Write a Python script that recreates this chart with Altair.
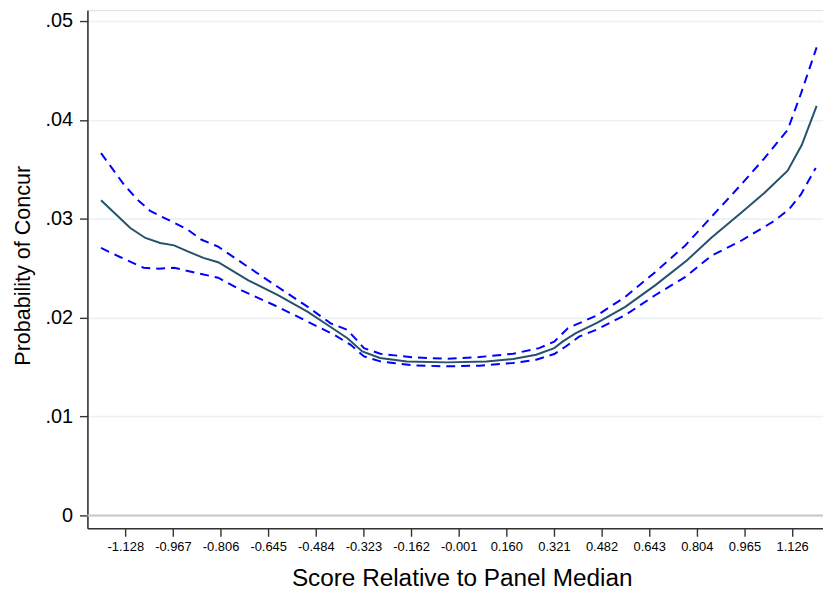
import altair as alt
import pandas as pd

# Point estimate (solid line)
est_x = [-1.210, -1.111, -1.060, -1.010, -0.963, -0.915, -0.864, -0.814, -0.712, -0.612,
         -0.511, -0.444, -0.377, -0.327, -0.267, -0.176, -0.041, 0.093, 0.183, 0.261,
         0.322, 0.350, 0.395, 0.468, 0.562, 0.663, 0.770, 0.854, 0.954, 1.033,
         1.111, 1.159, 1.209]
est_y = [0.03187, 0.02906, 0.02806, 0.02755, 0.02731, 0.02668, 0.02605, 0.02561, 0.02377, 0.02227,
         0.02059, 0.01926, 0.01792, 0.01658, 0.01592, 0.01558, 0.01548, 0.01558, 0.01582, 0.01625,
         0.01692, 0.01758, 0.01843, 0.01949, 0.02109, 0.02327, 0.02578, 0.02811, 0.03062, 0.03263,
         0.03487, 0.03748, 0.04142]

# Upper confidence bound (dashed)
up_x = [-1.210, -1.133, -1.088, -1.044, -0.971, -0.920, -0.870, -0.814, -0.712, -0.612,
        -0.511, -0.434, -0.377, -0.321, -0.266, -0.153, -0.041, 0.069, 0.183, 0.271,
        0.322, 0.368, 0.468, 0.562, 0.663, 0.764, 0.831, 0.954, 1.033, 1.111,
        1.156, 1.209]
up_y = [0.03664, 0.03347, 0.03197, 0.03079, 0.02972, 0.02896, 0.02788, 0.02718, 0.02511, 0.02310,
        0.02109, 0.01943, 0.01876, 0.01692, 0.01635, 0.01598, 0.01585, 0.01602, 0.01635, 0.01692,
        0.01758, 0.01893, 0.02026, 0.02210, 0.02460, 0.02728, 0.02946, 0.03347, 0.03614, 0.03899,
        0.04266, 0.04734]

# Lower confidence bound (dashed)
lo_x = [-1.210, -1.144, -1.066, -1.015, -0.963, -0.898, -0.814, -0.735, -0.612, -0.511,
        -0.421, -0.366, -0.321, -0.266, -0.153, -0.041, 0.069, 0.183, 0.261, 0.322,
        0.361, 0.406, 0.468, 0.562, 0.663, 0.764, 0.854, 0.954, 1.066, 1.116,
        1.156, 1.206]
lo_y = [0.02705, 0.02611, 0.02505, 0.02495, 0.02505, 0.02460, 0.02404, 0.02277, 0.02109, 0.01959,
        0.01826, 0.01725, 0.01608, 0.01558, 0.01518, 0.01508, 0.01515, 0.01542, 0.01575, 0.01632,
        0.01708, 0.01808, 0.01883, 0.02026, 0.02227, 0.02410, 0.02628, 0.02778, 0.02979, 0.03096,
        0.03247, 0.03514]

x_ticks = [-1.128, -0.967, -0.806, -0.645, -0.484, -0.323, -0.162, -0.001,
           0.160, 0.321, 0.482, 0.643, 0.804, 0.965, 1.126]
y_ticks = [0, 0.01, 0.02, 0.03, 0.04, 0.05]

FONT = "Liberation Sans"

xscale = alt.Scale(domain=[-1.256, 1.2305], nice=False, zero=False)
yscale = alt.Scale(domain=[-0.0013, 0.0511], nice=False, zero=False)

xaxis = alt.Axis(
    values=x_ticks,
    labelExpr="replace(format(datum.value, '.3f'), '\u2212', '-')",
    grid=False,
    domainColor="#333333", domainWidth=1.6, tickColor="#333333", tickWidth=1.4, tickSize=8,
    labelFont=FONT, labelFontSize=13, labelColor="#000000", labelPadding=4, labelFlush=False,
    title="Score Relative to Panel Median", titleFont=FONT, titleFontSize=24.5,
    titleFontWeight="normal", titleColor="#000000", titleX=377, titleY=58,
    titleAlign="center", titleBaseline="alphabetic",
)
yaxis = alt.Axis(
    values=y_ticks,
    labelExpr="datum.value == 0 ? '0' : replace(format(datum.value, '.2f'), '0.', '.')",
    grid=True, gridColor="#eaf2f3", gridWidth=1.6,
    domainColor="#333333", domainWidth=1.6, tickColor="#333333", tickWidth=1.4, tickSize=8,
    labelFont=FONT, labelFontSize=20, labelColor="#000000", labelPadding=7,
    title="Probability of Concur", titleFont=FONT, titleFontSize=21.7,
    titleFontWeight="normal", titleColor="#000000", titleAngle=270,
    titleX=-58, titleY=257, titleAlign="center", titleBaseline="alphabetic",
)

df_est = pd.DataFrame({"x": est_x, "y": est_y})
df_up = pd.DataFrame({"x": up_x, "y": up_y})
df_lo = pd.DataFrame({"x": lo_x, "y": lo_y})
df_zero = pd.DataFrame({"y": [0.0]})

base_axes = alt.Chart(df_est).mark_line(opacity=0).encode(
    x=alt.X("x:Q", scale=xscale, axis=xaxis),
    y=alt.Y("y:Q", scale=yscale, axis=yaxis),
)

zero_rule = alt.Chart(df_zero).mark_rule(color="#c8c8c8", strokeWidth=2).encode(
    y=alt.Y("y:Q", scale=yscale)
)

upper = alt.Chart(df_up).mark_line(color="#0000ff", strokeWidth=2, strokeDash=[9, 6]).encode(
    x=alt.X("x:Q", scale=xscale), y=alt.Y("y:Q", scale=yscale)
)
lower = alt.Chart(df_lo).mark_line(color="#0000ff", strokeWidth=2, strokeDash=[9, 6]).encode(
    x=alt.X("x:Q", scale=xscale), y=alt.Y("y:Q", scale=yscale)
)
est = alt.Chart(df_est).mark_line(color="#24526a", strokeWidth=2).encode(
    x=alt.X("x:Q", scale=xscale), y=alt.Y("y:Q", scale=yscale)
)

chart = alt.layer(base_axes, zero_rule, upper, lower, est).properties(
    width=741, height=522,
    autosize=alt.AutoSizeParams(type="none"),
    padding={"left": 80, "top": 0, "right": 0, "bottom": 61},
).configure_view(stroke=None).configure(background="white")

chart.save("out.html", embed_options={"renderer": "svg", "actions": False})
